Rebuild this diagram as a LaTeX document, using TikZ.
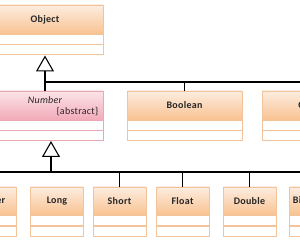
\documentclass[tikz,border=0pt]{standalone}
\usepackage{fontspec}
\setmainfont{Carlito}[LetterSpace=3]
\usepackage{xcolor}
\usetikzlibrary{arrows.meta, positioning}

\definecolor{hdtop}{HTML}{FDEDE0}
\definecolor{hdbot}{HTML}{F8C291}
\definecolor{hdline}{HTML}{F3C39A}
\definecolor{pktop}{HTML}{FCE4E9}
\definecolor{pkbot}{HTML}{F2AAB8}
\definecolor{pkline}{HTML}{E8A9B5}
\definecolor{txt}{HTML}{262626}

\begin{document}
\begin{tikzpicture}[
    x=1pt, y=-1pt,
    node distance=0pt,
    clsname/.style={font=\fontsize{10}{12}\selectfont\bfseries, text=txt},
    clshead/.style={draw=hdline, top color=hdtop, bottom color=hdbot, minimum height=29pt, inner sep=0pt, clsname},
    abshead/.style={clshead, draw=pkline, top color=pktop, bottom color=pkbot},
    clsrow/.style={draw=hdline, fill=white, minimum height=9.5pt, inner sep=0pt},
    absrow/.style={clsrow, draw=pkline},
    conn/.style={line width=1.6pt, black},
    gen/.style={-{Triangle[open, length=16pt, width=18pt, line width=1.1pt]}}
]
    \clip (0,0) rectangle (300,240);
    \fill[white] (0,0) rectangle (300,240);

    % superclass
    \node[clshead, minimum width=116pt] (obj) at (45,19.5) {Object};
    \node[clsrow, minimum width=116pt, below=of obj] (obj a) {};
    \node[clsrow, minimum width=116pt, below=of obj a] (obj b) {};

    % second level
    \node[abshead, minimum width=116pt] (numb) at (45,105.5) {};
    \node[absrow, minimum width=116pt, below=of numb] (numb a) {};
    \node[absrow, minimum width=116pt, below=of numb a] (numb b) {};
    \node[text=txt, font=\fontsize{10}{12}\selectfont\itshape] at (45,100) {Number};
    \node[text=txt, font=\fontsize{10}{12}\selectfont, anchor=east, inner sep=0pt] at (98.5,112) {\{abstract\}};

    \node[clshead, minimum width=115pt] (bool) at (184.5,105.5) {Boolean};
    \node[clsrow, minimum width=115pt, below=of bool] (bool a) {};
    \node[clsrow, minimum width=115pt, below=of bool a] (bool b) {};

    \node[clshead, minimum width=115pt] (char) at (319.5,105.5) {Character};
    \node[clsrow, minimum width=115pt, below=of char] (char a) {};
    \node[clsrow, minimum width=115pt, below=of char a] (char b) {};

    % third level
    \foreach \n/\x/\t in {int/-10.5/Integer, long/57/Long, short/119.5/Short,
                          float/182.5/Float, double/249.5/Double, bigint/315.5/BigInteger} {
        \node[clshead, minimum width=53pt, minimum height=28pt] (\n) at (\x,201) {\t};
        \node[clsrow, minimum width=53pt, minimum height=10pt, below=of \n] (\n a) {};
        \node[clsrow, minimum width=53pt, minimum height=10pt, below=of \n a] (\n b) {};
    }

    % buses
    \coordinate (bus1) at (0,82);
    \coordinate (bus2) at (0,172);

    \draw[conn, gen] (numb.north) -- ([yshift=-1.5pt]obj b.south);
    \draw[conn] (numb.north |- bus1) -| (bool.north);
    \draw[conn] (bool.north |- bus1) -| (char.north);

    \coordinate (ntip) at ([xshift=6pt, yshift=-1pt]numb b.south);
    \draw[conn, gen] (ntip |- bus2) -- (ntip);
    \draw[conn] (int.north |- bus2) -- (bigint.north |- bus2);
    \foreach \n in {int, short, float, double, bigint}
        \draw[conn] (\n.north |- bus2) -- (\n.north);
\end{tikzpicture}
\end{document}
